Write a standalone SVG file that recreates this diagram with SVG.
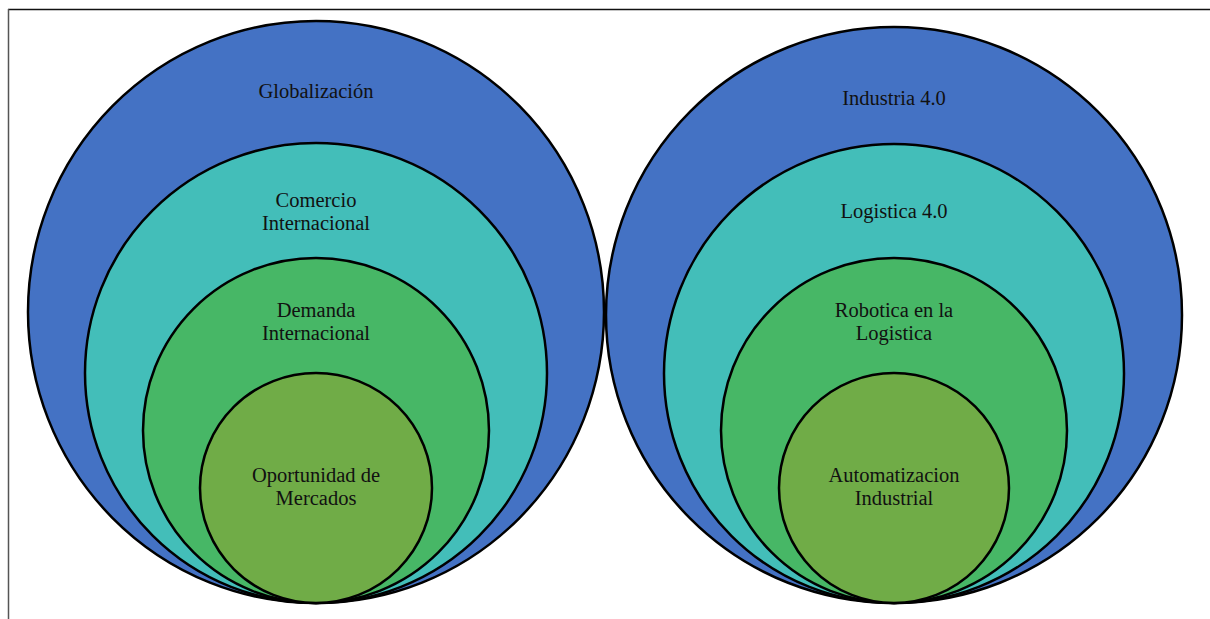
<svg xmlns="http://www.w3.org/2000/svg" width="1210" height="619" viewBox="0 0 1210 619">
<style>
.c{stroke:#000;stroke-width:2.5}
.l1{fill:#4472C4}.l2{fill:#43BEB9}.l3{fill:#47B766}.l4{fill:#70AC47}
text{font-family:"Liberation Serif","Times New Roman",serif;font-size:20.5px;fill:#111;text-anchor:middle}
</style>
<rect width="1210" height="619" fill="#fff"/>
<g id="frame">
<line x1="8" y1="9.5" x2="1210" y2="9.5" stroke="#111" stroke-width="1.5"/>
<line x1="8.5" y1="9" x2="8.5" y2="619" stroke="#555" stroke-width="1.5"/>
</g>
<g id="globalizacion"><ellipse class="c l1" cx="316" cy="312" rx="288" ry="291"/><text x="316" y="98">Globalización</text></g>
<g id="comercio"><ellipse class="c l2" cx="316" cy="373" rx="231" ry="230"/><text x="316" y="207">Comercio</text><text x="316" y="230">Internacional</text></g>
<g id="demanda"><ellipse class="c l3" cx="316" cy="430.5" rx="173" ry="172.5"/><text x="316" y="317">Demanda</text><text x="316" y="340">Internacional</text></g>
<g id="oportunidad"><ellipse class="c l4" cx="316" cy="488" rx="116" ry="115"/><text x="316" y="482">Oportunidad de</text><text x="316" y="505">Mercados</text></g>
<g id="industria"><ellipse class="c l1" cx="894" cy="315" rx="288" ry="288"/><text x="894" y="105">Industria 4.0</text></g>
<g id="logistica"><ellipse class="c l2" cx="894" cy="373.5" rx="230" ry="229.5"/><text x="894" y="218">Logistica 4.0</text></g>
<g id="robotica"><ellipse class="c l3" cx="894" cy="430.5" rx="173" ry="172.5"/><text x="894" y="317">Robotica en la</text><text x="894" y="340">Logistica</text></g>
<g id="automatizacion"><ellipse class="c l4" cx="894" cy="488" rx="115" ry="115"/><text x="894" y="482">Automatizacion</text><text x="894" y="505">Industrial</text></g>
<g id="connectors"/>
</svg>
